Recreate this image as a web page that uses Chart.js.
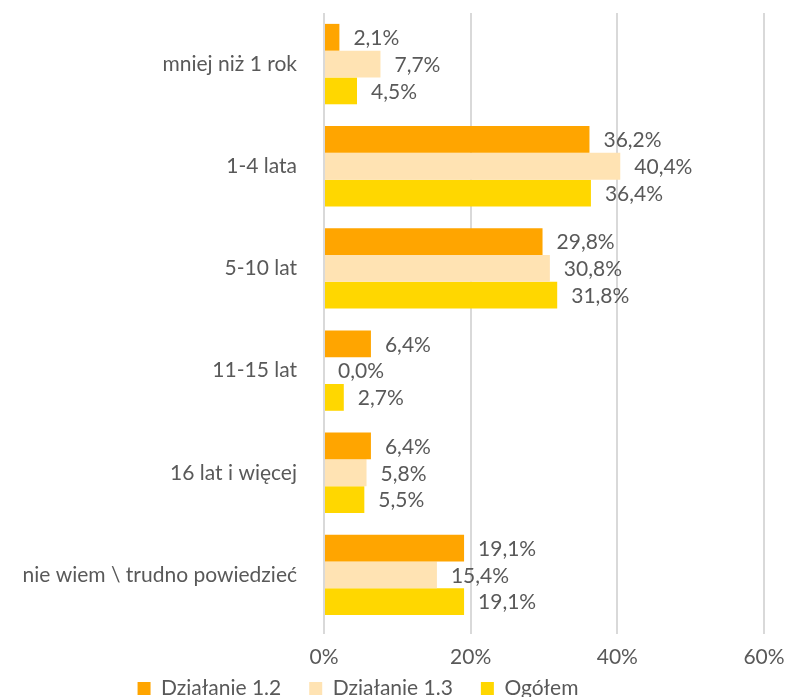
<!DOCTYPE html>
<html>
<head>
<meta charset="utf-8">
<script src="https://cdn.jsdelivr.net/npm/chart.js@4/dist/chart.umd.min.js"></script>
<style>
  html, body { margin: 0; padding: 0; background: #fff; }
  #wrap { width: 787px; height: 697px; position: relative; }
</style>
</head>
<body>
<div id="wrap"><canvas id="chart"></canvas></div>
<script>
const categories = ['mniej niż 1 rok', '1-4 lata', '5-10 lat', '11-15 lat', '16 lat i więcej', 'nie wiem \\ trudno powiedzieć'];
const dzialanie12 = [2.1, 36.2, 29.8, 6.4, 6.4, 19.1];
const dzialanie13 = [7.7, 40.4, 30.8, 0.0, 5.8, 15.4];
const ogolem = [4.5, 36.4, 31.8, 2.7, 5.5, 19.1];
const xTicks = [0, 20, 40, 60];

const textColor = '#595959';
const fontFamily = 'Lato, "Open Sans", sans-serif';
const fontSize = 21;

// value labels at the end of each bar
const barLabels = {
  id: 'barLabels',
  afterDatasetsDraw(chart) {
    const ctx = chart.ctx;
    ctx.save();
    ctx.font = fontSize + 'px ' + fontFamily;
    ctx.fillStyle = textColor;
    ctx.textAlign = 'left';
    ctx.textBaseline = 'middle';
    chart.data.datasets.forEach((ds, i) => {
      chart.getDatasetMeta(i).data.forEach((bar, j) => {
        const txt = ds.data[j].toFixed(1).replace('.', ',') + '%';
        ctx.fillText(txt, bar.x + 14, bar.y + 1);
      });
    });
    ctx.restore();
  }
};

// legend sits a bit left of centre in the original; x labels overlap the
// legend's top padding, so widen the x axis box again after layout
const layoutTweaks = {
  id: 'layoutTweaks',
  afterLayout(chart) {
    chart.legend.right = chart.legend.left + 716;
    const x = chart.scales.x;
    x.bottom = x.top + 45;
  }
};

new Chart(document.getElementById('chart'), {
  type: 'bar',
  data: {
    labels: categories,
    datasets: [
      { label: 'Działanie 1.2', data: dzialanie12, backgroundColor: '#FFA500' },
      { label: 'Działanie 1.3', data: dzialanie13, backgroundColor: '#FFE3B3' },
      { label: 'Ogółem', data: ogolem, backgroundColor: '#FFD700' },
    ],
  },
  options: {
    indexAxis: 'y',
    responsive: true,
    maintainAspectRatio: false,
    animation: false,
    layout: { padding: { top: 13, right: 23, bottom: -12, left: 0 } },
    datasets: {
      bar: { categoryPercentage: 0.787, barPercentage: 1.0 },
    },
    scales: {
      x: {
        min: 0,
        max: 60,
        afterBuildTicks: axis => { axis.ticks = xTicks.map(v => ({ value: v })); },
        afterFit: axis => { axis.paddingRight = 0; axis.paddingLeft = 0; axis.height = 24; },
        grid: { color: '#d9d9d9', lineWidth: 2, tickLength: 8, drawTicks: true },
        border: { display: false },
        ticks: {
          color: textColor,
          font: { size: fontSize, family: fontFamily },
          padding: 11,
          callback: v => v + '%',
        },
      },
      y: {
        afterFit: axis => { axis.width = 324; axis.paddingTop = 0; axis.paddingBottom = 0; },
        grid: { display: false },
        border: { display: false },
        ticks: {
          color: textColor,
          font: { size: fontSize, family: fontFamily },
          padding: 19,
        },
      },
    },
    plugins: {
      legend: {
        position: 'bottom',
        labels: {
          color: textColor,
          font: { size: fontSize, family: fontFamily },
          boxWidth: 13,
          boxHeight: 13,
          padding: 28,
        },
      },
      tooltip: { enabled: false },
    },
  },
  plugins: [barLabels, layoutTweaks],
});
</script>
</body>
</html>
